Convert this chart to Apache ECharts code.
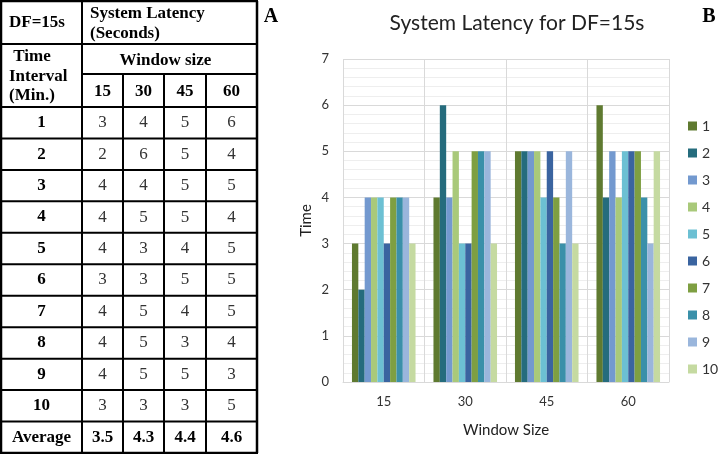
<!DOCTYPE html>
<html>
<head>
<meta charset="utf-8">
<script src="https://cdn.jsdelivr.net/npm/echarts@6/dist/echarts.min.js"></script>
<style>
  html, body { margin: 0; padding: 0; background: #fff; }
  #chart { width: 720px; height: 454px; }
</style>
</head>
<body>
<div id="chart"></div>
<script>
// ---- Data ----
const windowSizes = ['15', '30', '45', '60'];
const timeIntervals = ['1', '2', '3', '4', '5', '6', '7', '8', '9', '10'];
const latency15 = [3, 2, 4, 4, 4, 3, 4, 4, 4, 3];
const latency30 = [4, 6, 4, 5, 3, 3, 5, 5, 5, 3];
const latency45 = [5, 5, 5, 5, 4, 5, 4, 3, 5, 3];
const latency60 = [6, 4, 5, 4, 5, 5, 5, 4, 3, 5];
const averages = ['3.5', '4.3', '4.4', '4.6'];
const tableTitle = 'DF=15s';
const headerLines = ['System Latency', '(Seconds)'];
const rowHeaderLines = [' Time', 'Interval', '(Min.)'];
const subHeader = 'Window size';
const averageLabel = 'Average';
const chartTitle = 'System Latency for DF=15s';
const seriesColors = ['#5f7a30', '#256c7d', '#7399cf', '#a9c97a', '#6cc0d3',
                      '#3a64a0', '#7e9f42', '#3a90a9', '#9ab6dc', '#c5daa1'];

const columns = [latency15, latency30, latency45, latency60];

// ---- Table layout (graphic) ----
const colX = [1, 82, 123, 164, 206, 257];
const headY = [1, 44, 74, 107];
const rowH = (453 - 107) / 11;
const rowY = [];
for (let i = 0; i <= 11; i++) rowY.push(107 + i * rowH);
const serif = 'Liberation Serif';
const graphics = [];
function hline(y, x1, x2, w) {
  graphics.push({ type: 'line', shape: { x1: x1, y1: y, x2: x2, y2: y },
    style: { stroke: '#000', lineWidth: w || 2 } });
}
function vline(x, y1, y2, w) {
  graphics.push({ type: 'line', shape: { x1: x, y1: y1, x2: x, y2: y2 },
    style: { stroke: '#000', lineWidth: w || 2 } });
}
function txt(s, x, y, opts) {
  opts = opts || {};
  graphics.push({ type: 'text', x: x, y: y, style: {
    text: s, fontFamily: opts.family || serif, fontSize: opts.size || 17,
    fontWeight: opts.bold ? 'bold' : 'normal', fill: opts.color || '#000',
    textAlign: opts.align || 'center', textVerticalAlign: 'middle',
    align: opts.align || 'center', verticalAlign: 'middle' } });
}
// horizontal lines
hline(headY[0], colX[0] - 1, colX[5] + 1, 2.5);
hline(headY[1], colX[0], colX[5]);
hline(headY[2], colX[1], colX[5]);
for (let i = 0; i <= 11; i++) hline(rowY[i], colX[0] - 1, colX[5] + 1, i === 11 ? 2.5 : 2);
// vertical lines
vline(colX[0], headY[0], rowY[11], 2.5);
vline(colX[1], headY[0], rowY[11]);
for (let c = 2; c <= 4; c++) vline(colX[c], headY[2], rowY[11]);
vline(colX[5], headY[0], rowY[11], 2.5);
// header texts
txt(tableTitle, 9, 23, { bold: true, align: 'left', size: 17 });
txt(headerLines[0], 90, 14, { bold: true, align: 'left', size: 17 });
txt(headerLines[1], 90, 34, { bold: true, align: 'left', size: 17 });
txt(subHeader, (colX[1] + colX[5]) / 2 - 4, 61, { bold: true, size: 17 });
txt(rowHeaderLines[0], 9, 57, { bold: true, align: 'left', size: 17 });
txt(rowHeaderLines[1], 9, 77, { bold: true, align: 'left', size: 17 });
txt(rowHeaderLines[2], 9, 96, { bold: true, align: 'left', size: 17 });
for (let c = 0; c < 4; c++) {
  txt(windowSizes[c], (colX[c + 1] + colX[c + 2]) / 2, 92, { bold: true, size: 17 });
}
for (let r = 0; r < 10; r++) {
  const cy = (rowY[r] + rowY[r + 1]) / 2;
  txt(timeIntervals[r], (colX[0] + colX[1]) / 2, cy, { bold: true, size: 17 });
  for (let c = 0; c < 4; c++) {
    txt(String(columns[c][r]), (colX[c + 1] + colX[c + 2]) / 2, cy, { size: 17, color: '#333' });
  }
}
{
  const cy = (rowY[10] + rowY[11]) / 2;
  txt(averageLabel, (colX[0] + colX[1]) / 2, cy, { bold: true, size: 17 });
  for (let c = 0; c < 4; c++) {
    txt(averages[c], (colX[c + 1] + colX[c + 2]) / 2, cy, { bold: true, size: 17 });
  }
}
// panel letters
txt('A', 271, 17, { bold: true, size: 20 });
txt('B', 709, 17, { bold: true, size: 20 });

// ---- Chart ----
const sansFont = 'Lato';
const series = timeIntervals.map((name, i) => ({
  name: name,
  type: 'bar',
  data: columns.map(col => col[i]),
  itemStyle: { color: seriesColors[i] },
  barGap: '0%',
  barCategoryGap: '22%'
}));

const chart = echarts.init(document.getElementById('chart'), null, { renderer: 'canvas' });
chart.setOption({
  backgroundColor: '#fff',
  animation: false,
  title: {
    text: chartTitle,
    left: 512, top: 8, textAlign: 'center',
    textStyle: { fontFamily: sansFont, fontSize: 21, fontWeight: 'normal', color: '#222' }
  },
  legend: {
    orient: 'vertical',
    left: 688, top: 119,
    padding: 0,
    itemWidth: 9, itemHeight: 9, itemGap: 13,
    icon: 'rect',
    textStyle: { fontFamily: sansFont, fontSize: 14, color: '#333', lineHeight: 14 },
    data: timeIntervals
  },
  grid: { left: 343, right: 51, top: 59, bottom: 72, containLabel: false },
  xAxis: {
    type: 'category',
    data: windowSizes,
    name: 'Window Size',
    nameLocation: 'middle',
    nameGap: 41,
    nameTextStyle: { fontFamily: sansFont, fontSize: 15, color: '#222' },
    axisTick: { show: false },
    axisLine: { lineStyle: { color: '#d9d9d9', width: 1 } },
    axisLabel: { fontFamily: sansFont, fontSize: 13, color: '#333', margin: 13 },
    splitLine: { show: true, lineStyle: { color: '#d9d9d9', width: 1 } }
  },
  yAxis: {
    type: 'value',
    min: 0, max: 7, interval: 1,
    name: 'Time',
    nameLocation: 'middle',
    nameGap: 29,
    nameTextStyle: { fontFamily: sansFont, fontSize: 15, color: '#222' },
    axisLine: { show: false },
    axisTick: { show: false },
    axisLabel: { fontFamily: sansFont, fontSize: 13, color: '#333', margin: 14 },
    splitLine: { lineStyle: { color: '#d9d9d9', width: 1 } },
    minorTick: { show: false, splitNumber: 5 },
    minorSplitLine: { show: true, lineStyle: { color: '#eeeeee', width: 1 } }
  },
  series: series,
  graphic: graphics
});
</script>
</body>
</html>
